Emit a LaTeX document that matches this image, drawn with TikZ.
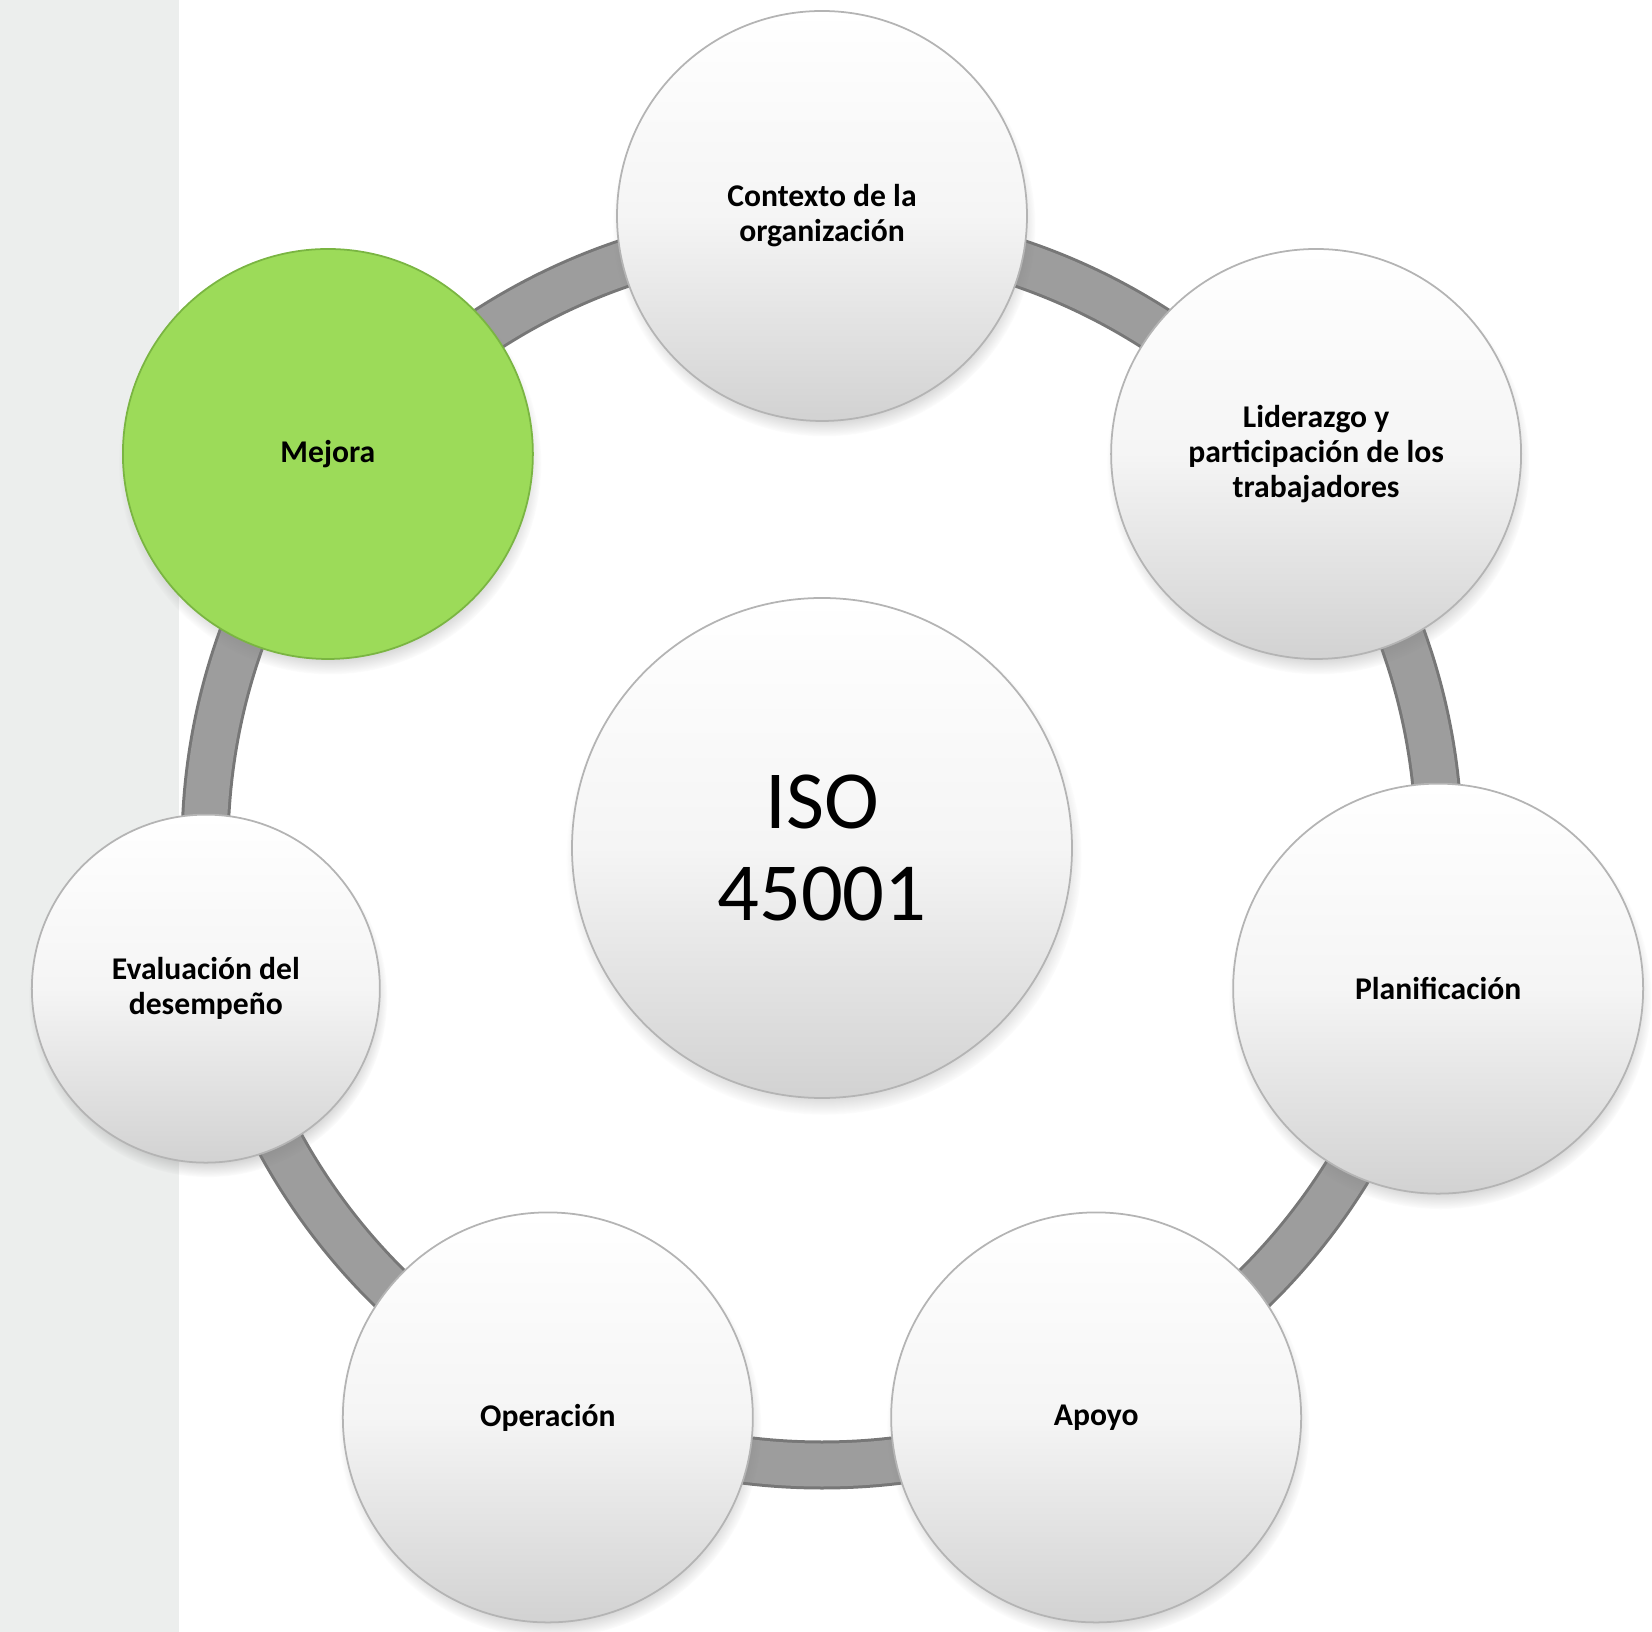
\documentclass[tikz,border=0pt]{standalone}
\usepackage{fontspec}
\setmainfont{Carlito}
\usetikzlibrary{shadows,fadings}
\definecolor{stripgray}{HTML}{ECEEED}
\definecolor{ringgray}{HTML}{9D9D9D}
\definecolor{ringedge}{HTML}{777777}
\definecolor{ballbottom}{HTML}{D2D2D2}
\definecolor{ballrim}{HTML}{B4B4B4}
\definecolor{mejoragreen}{HTML}{9CDB59}
\definecolor{mejorarim}{HTML}{7AB542}

\begin{document}
\begin{tikzpicture}
        % seven stages round the standard, centre of the ring at the origin
        \tikzstyle{ball}=[circle, inner sep=0pt, align=center, text=black,
                circular drop shadow={shadow xshift=0.02cm, shadow yshift=-0.09cm,
                        shadow scale=1.03, opacity=0.6}]
        \tikzstyle{stage}=[ball, minimum size=4.1cm, draw=ballrim, line width=0.5pt,
                top color=white, bottom color=ballbottom, middle color=black!4,
                font=\fontsize{9}{10}\selectfont\bfseries]
        \tikzstyle{mejora}=[ball, minimum size=4.1cm, draw=mejorarim, line width=0.5pt,
                fill=mejoragreen, font=\fontsize{9}{10}\selectfont\bfseries]
        \useasboundingbox (-8.22,-7.84) rectangle (8.30,8.48);
        \fill[stripgray] (-8.22,-7.84) rectangle (-6.43,8.48);

        \coordinate (hub) at (0,0);
        \draw[ringedge, line width=0.49cm] (hub) circle (6.17);
        \draw[ringgray, line width=0.43cm] (hub) circle (6.17);

        \node[ball, minimum size=5cm, draw=ballrim, line width=0.5pt,
                top color=white, bottom color=ballbottom, middle color=black!4,
                font=\fontsize{23.5}{26}\selectfont] (iso) at (hub) {ISO\\45001};

        \node[stage] (contexto) at (90:6.32) {Contexto de la\\organización};
        \node[stage] (liderazgo) at (38.57:6.32) {Liderazgo y\\participación de los\\trabajadores};
        \node[stage] (planif) at (-12.86:6.32) {Planificación};
        \node[stage] (apoyo) at (-64.29:6.32) {Apoyo};
        \node[stage] (operacion) at (-115.71:6.32) {Operación};
        \node[stage, minimum size=3.48cm] (evaluacion) at (192.86:6.32) {Evaluación del\\desempeño};
        \node[mejora] (mejora) at (141.43:6.32) {Mejora};
\end{tikzpicture}
\end{document}
